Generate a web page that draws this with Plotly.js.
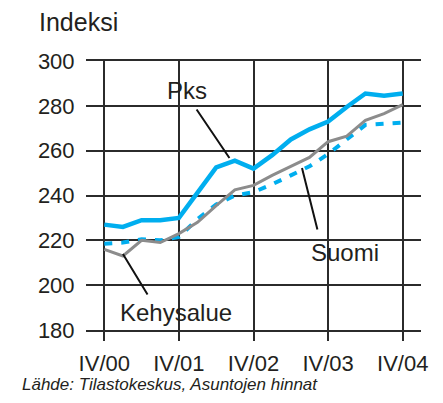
<!DOCTYPE html>
<html>
<head>
<meta charset="utf-8">
<script src="https://cdn.plot.ly/plotly-3.0.1.min.js"></script>
<style>html,body{margin:0;padding:0;background:#fff;}#chart{width:443px;height:403px;}</style>
</head>
<body>
<div id="chart"></div>
<script>
// Quarter index 0 = IV/00 ... 16 = IV/04
const quarters = [0,1,2,3,4,5,6,7,8,9,10,11,12,13,14,15,16];
const pks       = [227,226,229,229,230,241,252.5,255.5,252,258,265,269.5,273,279.5,285.5,284.5,285.5];
const kehysalue = [216,213,220,219,223,228,235.5,242.5,244.5,249,253,257,264,266.5,273.5,276.5,280.5];
const suomi     = [218.5,219,220.5,220,221.5,229.5,236,240,241.5,245,249,253,258.5,265,271.5,272,272.5];
const tickVals  = [0,4,8,12,16];
const tickText  = ['IV/00','IV/01','IV/02','IV/03','IV/04'];
const yTicks    = [180,200,220,240,260,280,300];

const FONT = 'Liberation Sans, Arial, sans-serif';
const TXT = '#231f20';
const GRID = '#2b2b2b';
const BLUE = '#00aeef';
const GRAY = '#8c8c8c';

const traces = [
  {x: quarters, y: suomi, type:'scatter', mode:'lines', name:'Suomi',
   line:{color:BLUE, width:4, dash:'8px,9px'}},
  {x: quarters, y: kehysalue, type:'scatter', mode:'lines', name:'Kehysalue',
   line:{color:GRAY, width:3}},
  {x: quarters, y: pks, type:'scatter', mode:'lines', name:'Pks',
   line:{color:BLUE, width:4.5}}
];

function label(text, x, y){
  return {text:text, x:x, y:y, xref:'x', yref:'y', showarrow:false,
          font:{family:FONT, size:24, color:TXT}, xanchor:'center', yanchor:'middle'};
}
function leader(tailX, tailY, tipX, tipY){
  return {text:' ', x:tipX, y:tipY, xref:'x', yref:'y', ax:tailX, ay:tailY,
          axref:'x', ayref:'y', showarrow:true, arrowhead:0, arrowwidth:2,
          arrowcolor:'#111', font:{size:2}};
}

const layout = {
  width:443, height:403,
  margin:{l:86, r:22, t:61, b:73},
  paper_bgcolor:'#fff', plot_bgcolor:'#fff',
  showlegend:false,
  font:{family:FONT, color:TXT},
  title:{text:'Indeksi', x:39/443, xref:'container', xanchor:'left',
         y:1-22/403, yref:'container', yanchor:'middle',
         font:{family:FONT, size:25, color:TXT}},
  xaxis:{range:[-0.98,16.98], tickvals:tickVals, ticktext:tickText,
         showgrid:true, gridcolor:GRID, gridwidth:2,
         showline:true, linecolor:GRID, linewidth:2, mirror:true,
         ticks:'outside', ticklen:9, tickwidth:2, tickcolor:GRID,
         zeroline:false, fixedrange:true, ticklabelstandoff:4,
         tickfont:{family:FONT, size:22, color:TXT}},
  yaxis:{range:[180,300], tickvals:yTicks, showgrid:true, gridcolor:GRID, gridwidth:2,
         showline:false, zeroline:false, ticks:'outside', ticklen:6,
         tickcolor:'rgba(0,0,0,0)', fixedrange:true,
         tickfont:{family:FONT, size:22, color:TXT}},
  annotations:[
    label('Pks', 4.45, 287),
    label('Suomi', 12.92, 214.6),
    label('Kehysalue', 3.87, 187.6),
    leader(4.86, 279.5, 6.71, 256.7),
    leader(11.46, 223.7, 10.6, 252.3),
    leader(2.40, 194.7, 1.0, 213.9),
    {text:'<i>Lähde: Tilastokeskus, Asuntojen hinnat</i>', xref:'paper', yref:'paper',
     x:(20-86)/335, y:(330-385)/269, xanchor:'left', yanchor:'middle', showarrow:false,
     font:{family:FONT, size:17, color:TXT}}
  ]
};

Plotly.newPlot('chart', traces, layout, {displayModeBar:false, staticPlot:true});
</script>
</body>
</html>
